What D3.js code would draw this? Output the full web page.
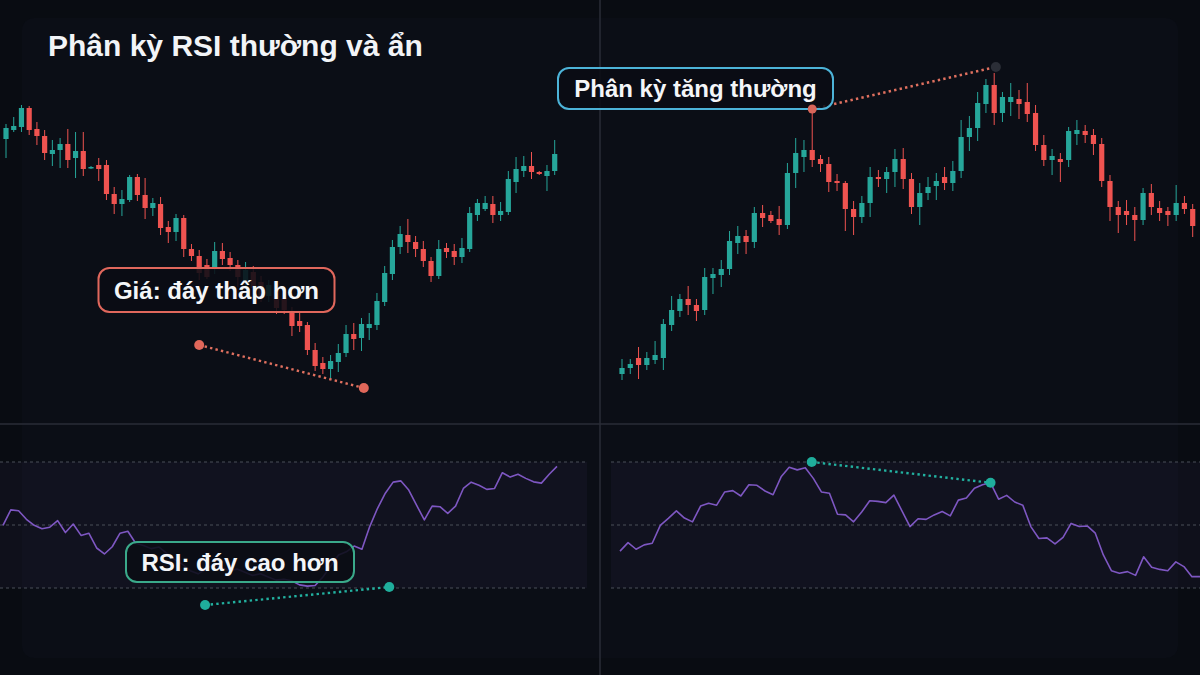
<!DOCTYPE html>
<html><head><meta charset="utf-8">
<script src="https://cdn.jsdelivr.net/npm/d3@7"></script>
<style>html,body{margin:0;padding:0;background:#090c12;}svg{display:block;}</style>
</head><body>
<script>
// ---------- DATA ----------
const titleText = "Phân kỳ RSI thường và ẩn";
// left panel candles [open, high, low, close]
const leftOHLC = [
[281,296,262,292],[290,303,288,294],[293,315,288,312],[312,314,285,290],[291,298,275,284],
[284,290,260,267],[266,280,254,270],[270,282,252,276],[276,291,252,260],[262,288,242,269],
[269,288,244,251],[252,254,251,253],[255,262,239,251],[255,260,220,226],[226,233,206,216],
[216,230,204,221],[220,245,218,243],[243,246,219,225],[225,242,201,212],[212,222,204,217],
[216,223,185,192],[193,199,177,188],[188,206,179,202],[202,205,163,171],[171,176,159,164],
[164,170,140,147],[155,161,141,143],[153,178,146,169],[169,177,155,161],[162,168,149,155],
[155,160,133,143],[138,158,132,150],[148,154,126,132],[138,144,118,124],[124,140,118,135],
[130,136,106,112],[122,128,106,110],[107,113,84,94],[99,107,88,94],[95,98,65,70],
[70,77,49,54],[57,63,46,51],[51,65,40,59],[58,76,48,67],[67,95,63,86],
[86,97,70,81],[82,102,69,96],[92,107,80,96],[95,127,90,119],[118,154,114,147],
[146,180,140,173],[173,194,166,186],[185,201,167,178],[178,184,163,171],[171,179,153,159],
[159,163,138,144],[144,180,141,171],[172,177,162,168],[169,176,155,163],[163,182,157,172],
[171,213,168,207],[205,221,199,217],[211,224,209,217],[216,224,197,205],[205,218,199,209],
[208,249,205,241],[238,263,227,251],[249,264,243,254],[254,268,241,248],[248,249,245,246],
[244,255,229,249],[249,280,245,266]
];
// right panel candles [open, high, low, close]
const rightOHLC = [
[46,61,40,52],[52,61,46,56],[62,73,41,55],[55,68,50,62],[60,79,56,65],
[62,101,50,96],[95,124,89,110],[109,126,103,121],[121,134,105,115],[115,121,99,109],
[110,152,105,143],[142,152,126,146],[145,160,133,151],[151,189,145,179],[177,194,166,184],
[184,190,166,178],[178,213,172,207],[207,215,193,202],[205,209,197,199],[201,214,185,195],
[195,257,191,247],[247,282,232,267],[263,280,248,270],[270,311,253,260],[261,265,248,256],
[256,263,228,238],[239,246,229,237],[237,239,189,211],[211,219,185,203],[203,224,197,217],
[217,253,203,243],[243,250,233,241],[241,253,227,248],[248,271,233,261],[261,272,231,241],
[241,247,206,213],[213,237,195,227],[227,243,220,233],[234,247,220,239],[243,253,230,237],
[237,259,229,249],[249,300,242,283],[283,304,269,292],[292,328,279,317],[316,341,307,335],
[335,347,295,307],[307,328,298,323],[318,337,304,323],[321,330,301,316],[318,337,298,306],
[307,315,269,275],[275,285,254,260],[260,271,245,264],[261,267,238,258],[260,293,253,289],
[286,300,275,290],[289,295,277,285],[285,291,265,276],[276,282,233,239],[239,245,199,213],
[213,219,187,205],[209,220,195,205],[205,213,179,200],[200,232,195,227],[227,236,205,213],
[212,219,199,207],[209,213,194,205],[205,235,199,217],[217,224,206,211],[211,216,183,194]
];
// RSI series
const leftRSI = [49.9,54.8,54.5,51.8,49.9,48.8,49.3,51.4,47.6,50.3,46.7,47.4,42.7,40.8,43.1,47.4,48.0,44.2,
43.5,42.5,43.0,41.0,39.0,37.5,35.5,34.5,36.0,37.5,36.5,35.5,36.0,35.0,34.0,34.5,33.5,32.5,32.8,32.3,31.0,
30.6,30.8,33.5,37.0,40.5,41.5,43.3,42.3,49.5,55.3,60.1,63.6,64.0,61.1,56.3,51.6,56.0,55.8,53.7,56.0,
61.6,63.6,62.6,61.3,61.6,66.6,65.2,66.1,64.8,63.7,63.3,66.1,68.6];
const rightRSI = [41.7,44.4,42.3,43.7,44.2,49.9,52.1,54.5,52.2,51.0,56.0,56.9,56.3,60.5,60.9,59.2,62.8,62.6,
60.8,59.6,65.3,68.3,67.5,68.2,64.8,60.5,60.1,53.4,53.2,51.0,54.1,57.7,57.5,57.1,59.5,54.5,49.5,52.0,51.8,
53.2,54.3,52.9,57.9,58.6,61.7,62.8,63.4,58.2,59.4,57.3,56.3,49.5,45.7,45.9,44.0,46.1,50.5,49.5,49.7,47.4,
40.5,35.5,34.7,35.2,34.0,39.9,36.6,35.9,35.5,38.3,36.8,33.6,33.6];
const rsiLevels = [30, 50, 70];
// divergence annotations: [index, value]
const leftPriceDiv = [[25, 75], [46.3, 32]];
const leftRsiDiv = [[25.9, 24.6], [49.5, 30.3]];
const rightPriceDiv = [[23, 311], [45.2, 353]];
const rightRsiDiv = [[23.8, 70], [46, 63.4]];
const labelTexts = ["Giá: đáy thấp hơn", "RSI: đáy cao hơn", "Phân kỳ tăng thường"];

// ---------- CHART ----------
const W = 1200, H = 675;
const UP = "#26a69a", DOWN = "#ef5350";
const FONT = "'Liberation Sans', Arial, Helvetica, sans-serif";
const svg = d3.select("body").append("svg").attr("width", W).attr("height", H);

svg.append("rect").attr("width", W).attr("height", H).attr("fill", "#090c12");
svg.append("rect").attr("x", 22).attr("y", 18).attr("width", 1156).attr("height", 640)
  .attr("rx", 12).attr("fill", "#0b0e16");

const priceY = d3.scaleLinear().domain([0, 330]).range([420, 90]);
const rsiY = d3.scaleLinear().domain([30, 70]).range([588, 462]);
const leftX = d3.scaleLinear().domain([0, leftOHLC.length - 1]).range([6, 554.7]);
const rightX = d3.scaleLinear().domain([0, rightOHLC.length - 1]).range([622, 1192.7]);
const leftRsiX = d3.scaleLinear().domain([0, leftRSI.length - 1]).range([3, 557]);
const rightRsiX = d3.scaleLinear().domain([0, rightRSI.length - 1]).range([620, 1200]);

// RSI panes
const panes = [{x0: 0, x1: 587}, {x0: 611, x1: 1200}];
panes.forEach(p => {
  svg.append("rect").attr("x", p.x0).attr("y", rsiY(70)).attr("width", p.x1 - p.x0)
    .attr("height", rsiY(30) - rsiY(70)).attr("fill", "#7e57c2").attr("fill-opacity", 0.06);
  svg.selectAll(null).data(rsiLevels).enter().append("line")
    .attr("x1", p.x0).attr("x2", p.x1).attr("y1", d => rsiY(d)).attr("y2", d => rsiY(d))
    .attr("stroke", "#4b4e58").attr("stroke-width", 1).attr("stroke-dasharray", "3,3");
});

// dividers
svg.append("line").attr("x1", 600).attr("x2", 600).attr("y1", 0).attr("y2", H)
  .attr("stroke", "#2a2d37").attr("stroke-width", 1.5);
svg.append("line").attr("x1", 0).attr("x2", W).attr("y1", 424).attr("y2", 424)
  .attr("stroke", "#2a2d37").attr("stroke-width", 1.5);

// candles
function drawCandles(data, xs) {
  const g = svg.append("g");
  const c = g.selectAll("g").data(data).enter().append("g");
  c.append("line")
    .attr("x1", (d, i) => xs(i)).attr("x2", (d, i) => xs(i))
    .attr("y1", d => priceY(d[1])).attr("y2", d => priceY(d[2]))
    .attr("stroke", d => d[3] >= d[0] ? UP : DOWN).attr("stroke-width", 1);
  c.append("rect")
    .attr("x", (d, i) => xs(i) - 2.6).attr("width", 5.2)
    .attr("y", d => priceY(Math.max(d[0], d[3])))
    .attr("height", d => Math.max(1.5, Math.abs(priceY(d[0]) - priceY(d[3]))))
    .attr("fill", d => d[3] >= d[0] ? UP : DOWN);
}
drawCandles(leftOHLC, leftX);
drawCandles(rightOHLC, rightX);

// RSI lines
function drawRSI(data, xs) {
  svg.append("path").datum(data)
    .attr("d", d3.line().x((d, i) => xs(i)).y(d => rsiY(d)))
    .attr("fill", "none").attr("stroke", "#7e57c2").attr("stroke-width", 1.6)
    .attr("stroke-linejoin", "round");
}
drawRSI(leftRSI, leftRsiX);
drawRSI(rightRSI, rightRsiX);

// dotted divergence lines
function divLine(pts, xs, ys, color) {
  svg.append("line")
    .attr("x1", xs(pts[0][0])).attr("y1", ys(pts[0][1]))
    .attr("x2", xs(pts[1][0])).attr("y2", ys(pts[1][1]))
    .attr("stroke", color).attr("stroke-width", 2.4).attr("stroke-dasharray", "2.4,3.2");
}
function divDot(pt, xs, ys, color, r) {
  svg.append("circle").attr("cx", xs(pt[0])).attr("cy", ys(pt[1])).attr("r", r || 5).attr("fill", color);
}
divLine(leftPriceDiv, leftX, priceY, "#e0705f");
divLine(rightPriceDiv, rightX, priceY, "#e0705f");
divLine(leftRsiDiv, leftRsiX, rsiY, "#22b09f");
divLine(rightRsiDiv, rightRsiX, rsiY, "#22b09f");

// labels
function label(text, cx, cy, w, h, stroke) {
  svg.append("rect").attr("x", cx - w / 2).attr("y", cy - h / 2).attr("width", w).attr("height", h)
    .attr("rx", 11).attr("fill", "#0a0d15").attr("fill-opacity", 0.88)
    .attr("stroke", stroke).attr("stroke-width", 2);
  svg.append("text").attr("x", cx).attr("y", cy + 8.5).attr("text-anchor", "middle")
    .attr("font-family", FONT).attr("font-weight", "bold").attr("font-size", 24)
    .attr("fill", "#f4f6f8").text(text);
}
label(labelTexts[0], 216.5, 290, 236, 44, "#e0675c");
label(labelTexts[1], 240, 562, 228, 40, "#3aa98a");
label(labelTexts[2], 695.5, 88.5, 275, 41, "#4cb3d8");

// dots on top
divDot(leftPriceDiv[0], leftX, priceY, "#e0675a");
divDot(leftPriceDiv[1], leftX, priceY, "#e0675a");
divDot(rightPriceDiv[0], rightX, priceY, "#d9665a", 4.5);
divDot(rightPriceDiv[1], rightX, priceY, "#2b2e37");
divDot(leftRsiDiv[0], leftRsiX, rsiY, "#1fae9c");
divDot(leftRsiDiv[1], leftRsiX, rsiY, "#1fae9c");
divDot(rightRsiDiv[0], rightRsiX, rsiY, "#1fae9c");
divDot(rightRsiDiv[1], rightRsiX, rsiY, "#1fae9c");

// title
svg.append("text").attr("x", 48).attr("y", 56)
  .attr("font-family", FONT).attr("font-weight", "bold").attr("font-size", 30)
  .attr("fill", "#f2f4f7").text(titleText);
</script>
</body></html>
